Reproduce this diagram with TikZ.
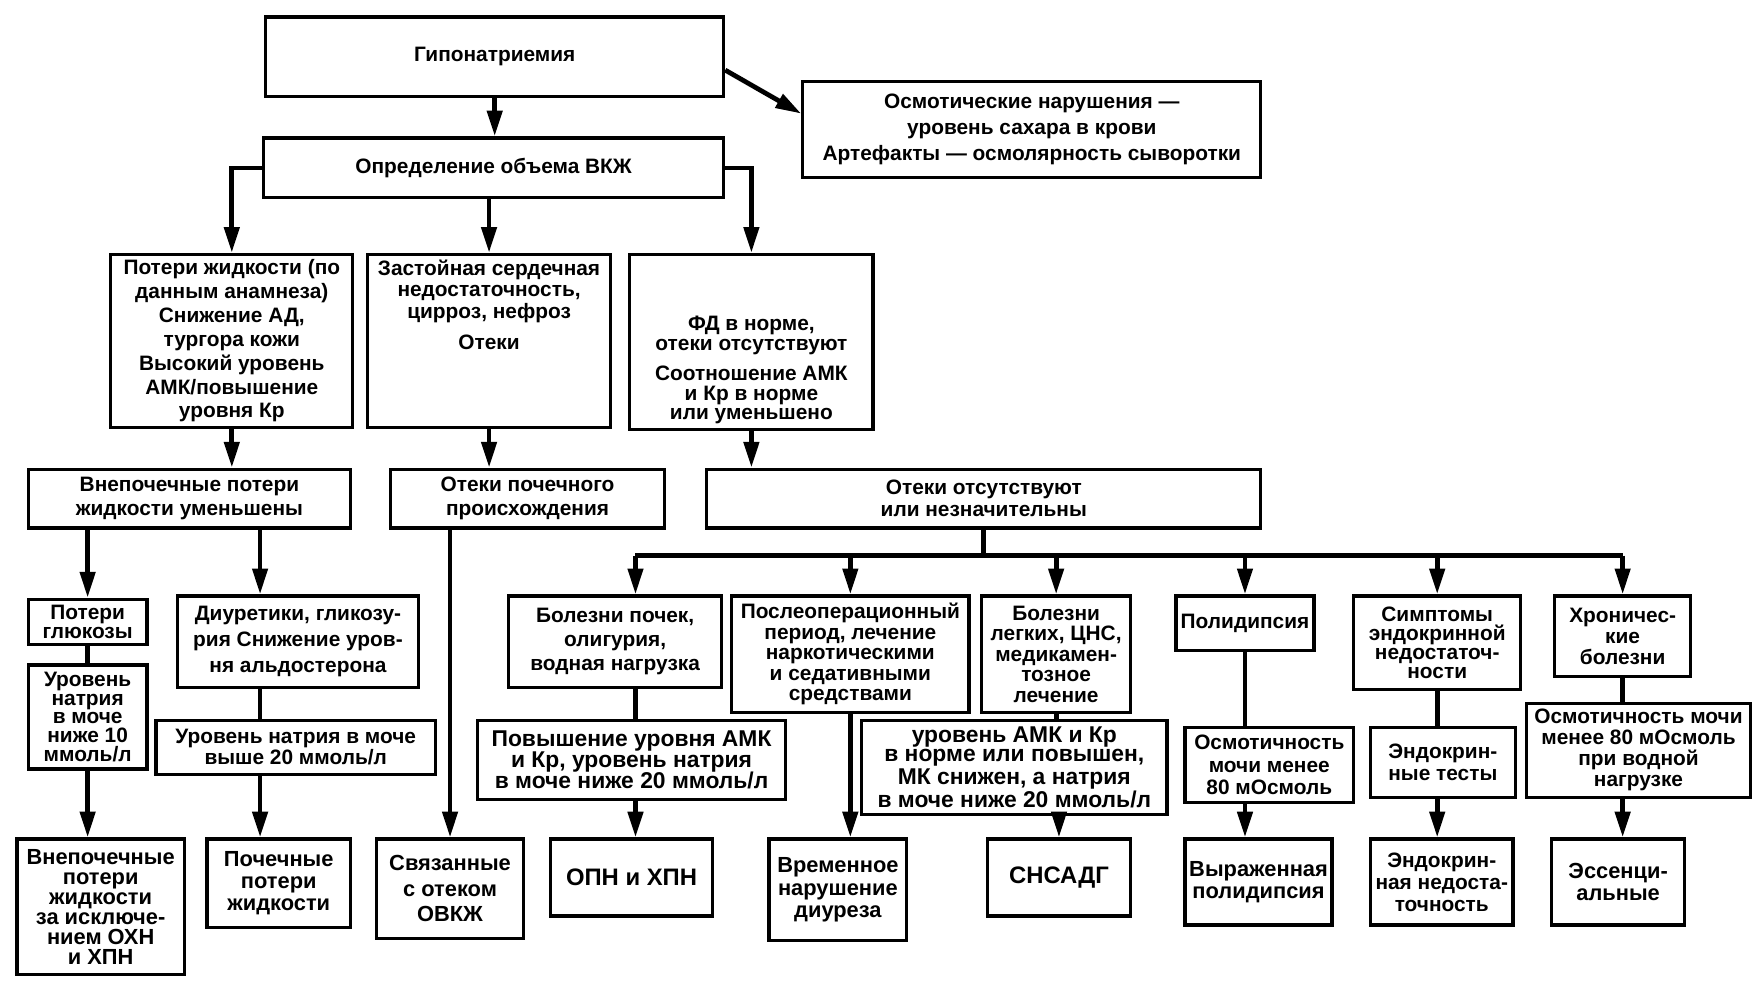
\documentclass[tikz,border=0pt]{standalone}
\usepackage{fontspec}
\setmainfont{Liberation Sans}
\usetikzlibrary{arrows.meta,positioning,calc}
\newcommand{\boxfont}[2]{\bfseries\fontsize{#1}{#2}\selectfont}
\tikzset{
  box/.style={draw, line width=1.6pt, align=center, inner sep=1pt, font=\boxfont{10.5}{11}},
  arr/.style={line width=2.4pt, -{Triangle[length=13pt,width=7.5pt]}},
  link/.style={line width=2.4pt},
}
\begin{document}
\begin{tikzpicture}[x=0.02cm,y=-0.02cm]
\useasboundingbox (0,0) rectangle (1560,877);
% top
\node[box, minimum width=8.1cm, minimum height=1.4cm] (hypo) at (437.5,50) {Гипонатриемия};
\node[box, minimum width=8.1cm, minimum height=1.7cm, font=\boxfont{10.5}{13}] (osm) at (912.5,114.5) {Осмотические нарушения —\\уровень сахара в крови\\Артефакты — осмолярность сыворотки};
\node[box, minimum width=8.14cm, minimum height=1.06cm] (vol) at (436.5,148.5) {Определение объема ВКЖ};
% volume groups
\node[box, minimum width=4.28cm, minimum height=3.06cm, font=\boxfont{10.5}{12}] (loss) at (205,301.5) {Потери жидкости (по\\данным анамнеза)\\Снижение АД,\\тургора кожи\\Высокий уровень\\АМК/повышение\\уровня Кр};
\node[box, minimum width=4.3cm, minimum height=3.06cm, font=\boxfont{10.5}{10.8}] (cardio) at (432.5,301.5) {Застойная сердечная\\недостаточность,\\цирроз, нефроз\\[5pt]Отеки\\[0.9cm]\mbox{}};
\node[box, minimum width=4.3cm, minimum height=3.1cm, font=\boxfont{10.5}{10}] (normal) at (664.5,302.5) {\mbox{}\\[0.9cm]ФД в норме,\\отеки отсутствуют\\[5pt]Соотношение АМК\\и Кр в норме\\или уменьшено};
\node[box, minimum width=5.7cm, minimum height=1.04cm, font=\boxfont{10.5}{12}] (extra) at (167.5,441) {Внепочечные потери\\жидкости уменьшены};
\node[box, minimum width=4.86cm, minimum height=1.04cm, font=\boxfont{10.5}{12}] (renal) at (466.5,441) {Отеки почечного\\происхождения};
\node[box, minimum width=9.8cm, minimum height=1.04cm, font=\boxfont{10.5}{11}] (noedema) at (870,441) {Отеки отсутствуют\\или незначительны};
% causes
\node[box, minimum width=2.1cm, minimum height=0.8cm, font=\boxfont{10.5}{10}] (gluc) at (77.5,550) {Потери\\глюкозы};
\node[box, minimum width=4.26cm, minimum height=1.62cm, font=\boxfont{10.5}{13}] (diur) at (263.5,567.5) {Диуретики, гликозу-\\рия Снижение уров-\\ня альдостерона};
\node[box, minimum width=3.76cm, minimum height=1.62cm, font=\boxfont{10.5}{12.2}] (kidney) at (544,567.5) {Болезни почек,\\олигурия,\\водная нагрузка};
\node[box, minimum width=4.2cm, minimum height=2.06cm, font=\boxfont{10.5}{10.3}] (postop) at (752,578.5) {Послеоперационный\\период, лечение\\наркотическими\\и седативными\\средствами};
\node[box, minimum width=2.64cm, minimum height=2.06cm, font=\boxfont{10.5}{10.3}] (lung) at (934,578.5) {Болезни\\легких, ЦНС,\\медикамен-\\тозное\\лечение};
\node[box, minimum width=2.44cm, minimum height=0.96cm] (polyd) at (1101,551) {Полидипсия};
\node[box, minimum width=2.96cm, minimum height=1.66cm, font=\boxfont{10.5}{9.5}] (endo) at (1271,568.5) {Симптомы\\эндокринной\\недостаточ-\\ности};
\node[box, minimum width=2.4cm, minimum height=1.42cm, font=\boxfont{10.5}{10.5}] (chron) at (1435,562.5) {Хроничес-\\кие\\болезни};
% tests
\node[box, minimum width=2.1cm, minimum height=1.84cm, font=\boxfont{10.5}{9.5}] (una10) at (77.5,634) {Уровень\\натрия\\в моче\\ниже 10\\ммоль/л};
\node[box, minimum width=4.94cm, minimum height=0.96cm, font=\boxfont{10.5}{10.5}] (una20) at (261.5,661) {Уровень натрия в моче\\выше 20 ммоль/л};
\node[box, minimum width=5.46cm, minimum height=1.4cm, font=\boxfont{11.5}{10.8}] (amk) at (558.5,672) {Повышение уровня АМК\\и Кр, уровень натрия\\в моче ниже 20 ммоль/л};
\node[box, minimum width=5.4cm, minimum height=1.66cm, font=\boxfont{11.5}{9.8}] (amk2) at (897,678.5) {уровень АМК и Кр\\в норме или повышен,\\МК снижен, а натрия\\в моче ниже 20 ммоль/л};
\node[box, minimum width=2.98cm, minimum height=1.34cm, font=\boxfont{10.5}{11.4}] (osm80) at (1122.5,676.5) {Осмотичность\\мочи менее\\80 мОсмоль};
\node[box, minimum width=2.56cm, minimum height=1.24cm, font=\boxfont{10.5}{11}] (endot) at (1276,674) {Эндокрин-\\ные тесты};
\node[box, minimum width=3.96cm, minimum height=1.66cm, font=\boxfont{10.5}{10.6}] (osmw) at (1449,663.5) {Осмотичность мочи\\менее 80 мОсмоль\\при водной\\нагрузке};
% results
\node[box, minimum width=2.96cm, minimum height=2.4cm, font=\boxfont{11}{10}] (res1) at (89,802) {Внепочечные\\потери\\жидкости\\за исключе-\\нием ОХН\\и ХПН};
\node[box, minimum width=2.54cm, minimum height=1.56cm, font=\boxfont{11}{11}] (res2) at (246.5,781) {Почечные\\потери\\жидкости};
\node[box, minimum width=2.6cm, minimum height=1.76cm, font=\boxfont{11}{12.8}] (res3) at (398,786) {Связанные\\с отеком\\ОВКЖ};
\node[box, minimum width=2.86cm, minimum height=1.36cm, font=\boxfont{12}{13}] (res4) at (558.5,776) {ОПН и ХПН};
\node[box, minimum width=2.44cm, minimum height=1.8cm, font=\boxfont{11}{11.4}] (res5) at (741,787) {Временное\\нарушение\\диуреза};
\node[box, minimum width=2.54cm, minimum height=1.36cm, font=\boxfont{12}{13}] (res6) at (936.5,776) {СНСАДГ};
\node[box, minimum width=2.6cm, minimum height=1.52cm, font=\boxfont{11}{11.4}] (res7) at (1113,780) {Выраженная\\полидипсия};
\node[box, minimum width=2.52cm, minimum height=1.52cm, font=\boxfont{10.5}{11}] (res8) at (1275,780) {Эндокрин-\\ная недоста-\\точность};
\node[box, minimum width=2.36cm, minimum height=1.52cm, font=\boxfont{11}{11.4}] (res9) at (1431,780) {Эссенци-\\альные};
% edges
\draw[arr] (hypo.south) -- (hypo.south |- vol.north);
\draw[arr] ($(hypo.east)+(0,12)$) -- ($(osm.west)+(0,-14)$);
\draw[arr] (vol.west) -| (loss.north);
\draw[arr] (vol.south -| cardio.north) -- (cardio.north);
\draw[arr] (vol.east) -| (normal.north);
\draw[arr] (loss.south) -- (loss.south |- extra.north);
\draw[arr] (cardio.south) -- (cardio.south |- renal.north);
\draw[arr] (normal.south) -- (normal.south |- noedema.north);
\coordinate (xd) at (230,0);
\coordinate (xk) at (562,0);
\draw[arr] (extra.south -| gluc.north) -- (gluc.north);
\draw[arr] (extra.south -| xd) -- (diur.north -| xd);
\draw[link] (gluc.south) -- (una10.north);
\draw[link] (diur.south -| xd) -- (una20.north -| xd);
\draw[arr] (una10.south) -- (una10.south |- res1.north);
\draw[arr] (una20.south -| xd) -- (res2.north -| xd);
\draw[arr] (renal.south -| res3.north) -- (res3.north);
\draw[link] (noedema.south) -- ++(0,23) coordinate (bus);
\draw[link] (bus -| xk) -- (bus -| chron.north);
\draw[arr] (bus -| xk) -- (kidney.north -| xk);
\foreach \n in {postop,lung,polyd,endo,chron}
  \draw[arr] (bus -| \n.north) -- (\n.north);
\draw[link] (kidney.south -| xk) -- (amk.north -| xk);
\draw[arr] (amk.south -| xk) -- (res4.north -| xk);
\draw[arr] (postop.south) -- (postop.south |- res5.north);
\draw[link] (lung.south) -- (lung.south |- amk2.north);
\draw[arr] (amk2.south -| res6.north) -- (res6.north);
\draw[link] (polyd.south) -- (polyd.south |- osm80.north);
\draw[arr] (osm80.south -| polyd.south) -- (res7.north -| polyd.south);
\draw[link] (endo.south) -- (endo.south |- endot.north);
\draw[arr] (endot.south -| endo.south) -- (res8.north -| endo.south);
\draw[link] (chron.south) -- (chron.south |- osmw.north);
\draw[arr] (osmw.south -| chron.south) -- (res9.north -| chron.south);
\end{tikzpicture}
\end{document}
